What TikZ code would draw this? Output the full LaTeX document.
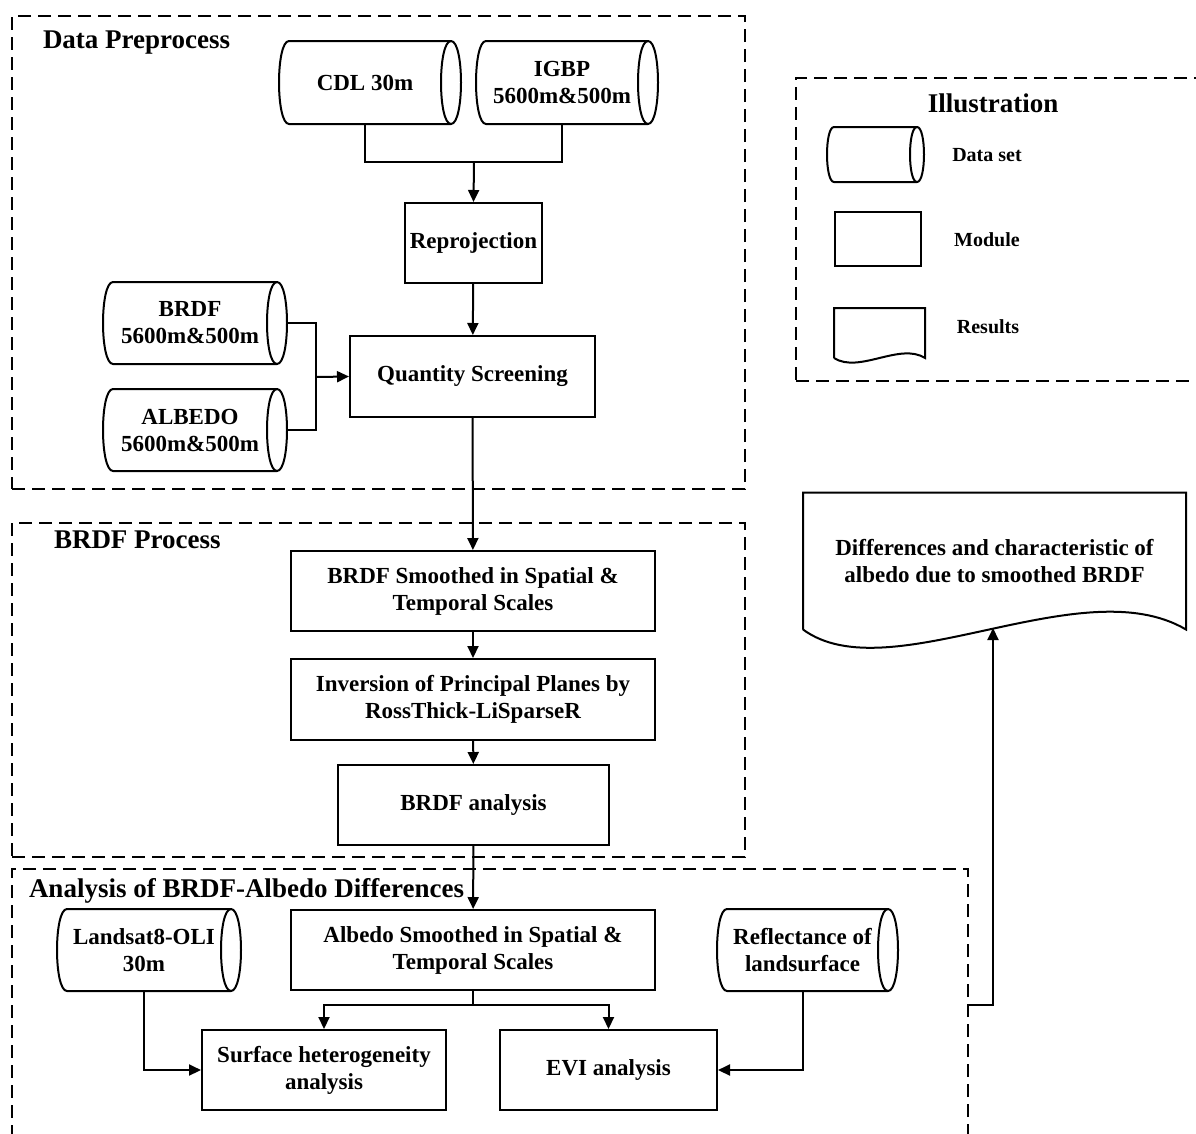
\documentclass[tikz,border=0pt]{standalone}
\usepackage{fontspec}
\setmainfont{Liberation Serif}
\usepackage{tikz}
\usetikzlibrary{arrows.meta,calc}

\newcommand{\cylout}[2][10]{%
  \draw ($(#2.north west)+(#1,0)$) -- (#2.north east)
    .. controls ($(#2.north east)+({4*#1/3},0)$) and ($(#2.south east)+({4*#1/3},0)$) .. (#2.south east)
    -- ($(#2.south west)+(#1,0)$)
    .. controls ($(#2.south west)+({-#1/3},0)$) and ($(#2.north west)+({-#1/3},0)$) .. cycle;
  \draw (#2.north east) .. controls ($(#2.north east)+({-4*#1/3},0)$) and ($(#2.south east)+({-4*#1/3},0)$) .. (#2.south east);
}

\begin{document}
\begin{tikzpicture}[x=1pt,y=-1pt,>={Triangle[length=12pt,width=11pt]},line width=2pt]
\tikzstyle{module}=[draw=black,rectangle,inner sep=0pt,align=center,font=\fontsize{23}{27}\selectfont\bfseries]
\tikzstyle{dataset}=[rectangle,inner sep=0pt,align=center,font=\fontsize{23}{27}\selectfont\bfseries]
\tikzstyle{frame}=[draw=black,rectangle,dash pattern=on 13pt off 7pt,line width=2pt]
\tikzstyle{title}=[anchor=west,inner sep=0pt,font=\fontsize{27}{30}\selectfont\bfseries]
\tikzstyle{legend}=[inner sep=0pt,font=\fontsize{20}{23}\selectfont\bfseries]
\useasboundingbox (0,0) rectangle (1196,1133);
\clip (0,0) rectangle (1196,1133);
\fill[white] (0,0) rectangle (1196,1133);
\node[frame,minimum width=733pt,minimum height=473pt] (dpframe) at (378.5,252.5) {};
\node[frame,minimum width=733pt,minimum height=334pt] (bpframe) at (378.5,690) {};
\node[frame,minimum width=956pt,minimum height=272pt] (anaframe) at (490,1005) {};
\node[frame,minimum width=414pt,minimum height=303pt] (illframe) at (1003,229.5) {};
\node[title] (dptitle) at (42,43) {Data Preprocess};
\node[title] (bptitle) at (53,540) {BRDF Process};
\node[title] (anatitle) at (28,891) {Analysis of BRDF-Albedo Differences};
\node[title,anchor=center] (illtitle) at (993,103) {Illustration};
% data preprocess
\node[dataset,minimum width=170pt,minimum height=81pt] (cdl) at (365,82.5) {CDL 30m};
\node[dataset,minimum width=170pt,minimum height=81pt] (igbp) at (562,82.5) {IGBP\\5600m\&500m};
\node[module,minimum width=137pt,minimum height=80pt] (rep) at (473.5,243) {Reprojection};
\node[module,minimum width=245pt,minimum height=81pt] (qs) at (472.5,376.5) {Quantity Screening};
\node[dataset,minimum width=172pt,minimum height=80pt] (brdf) at (190,323) {BRDF\\5600m\&500m};
\node[dataset,minimum width=172pt,minimum height=80pt] (alb) at (190,430) {ALBEDO\\5600m\&500m};
\coordinate (j1) at (474,162);
\coordinate (j2) at (316,377);
% brdf process
\node[module,minimum width=364pt,minimum height=80pt] (bsm) at (473,591) {BRDF Smoothed in Spatial \&\\Temporal Scales};
\node[module,minimum width=364pt,minimum height=81pt] (inv) at (473,699.5) {Inversion of Principal Planes by\\RossThick-LiSparseR};
\node[module,minimum width=271pt,minimum height=80pt] (bana) at (473.5,805) {BRDF analysis};
% analysis
\node[dataset,minimum width=172pt,minimum height=80pt] (land) at (144,950) {Landsat8-OLI\\30m};
\node[module,minimum width=364pt,minimum height=80pt] (asm) at (473,950) {Albedo Smoothed in Spatial \&\\Temporal Scales};
\node[dataset,minimum width=169pt,minimum height=80pt] (refl) at (802.5,950) {Reflectance of\\landsurface};
\node[module,minimum width=244pt,minimum height=80pt] (sh) at (324,1070) {Surface heterogeneity\\analysis};
\node[module,minimum width=217pt,minimum height=80pt] (evi) at (608.5,1070) {EVI analysis};
\coordinate (j3) at (473,1005);
\cylout{cdl}
\cylout{igbp}
\cylout{brdf}
\cylout{alb}
\cylout{land}
\cylout{refl}
% results
\node[inner sep=0pt,minimum width=381pt,minimum height=135pt,align=center,font=\fontsize{23}{27}\selectfont\bfseries] (res) at (994.5,561) {Differences and characteristic of\\albedo due to smoothed BRDF};
\draw (res.south west) -- (res.north west) -- (res.north east) -- (res.south east)
  .. controls ($(res.south east)+(-105,-62)$) and ($(res.south west)+(86,63)$) .. (res.south west);
\coordinate (resin) at (993,628);
% illustration
\node[dataset,minimum width=88pt,minimum height=53pt] (lcyl) at (872,154.5) {};
\cylout[7]{lcyl}
\node[module,minimum width=86pt,minimum height=54pt] (lbox) at (878,239) {};
\node[inner sep=0pt,minimum width=89pt,minimum height=48pt] (lres) at (879.5,333) {};
\draw (lres.south west) -- (lres.north west) -- (lres.north east) -- (lres.south east)
  .. controls ($(lres.south east)+(-25,-16)$) and ($(lres.south west)+(25,16)$) .. (lres.south west);
\node[legend] (ldata) at (987,155) {Data set};
\node[legend] (lmod) at (987,240) {Module};
\node[legend] (lresults) at (988,327) {Results};
% connectors
\draw (cdl.south) |- (j1) -| (igbp.south);
\draw ([xshift=10pt]brdf.east) -| (j2) |- ([xshift=10pt]alb.east);
\draw (asm.south) -- (j3);
\path[->]
(j1) edge (rep.north)
(rep) edge (qs)
(j2) edge (qs.west)
(qs) edge (bsm)
(bsm) edge (inv)
(inv) edge (bana)
(bana) edge (asm);
\draw[->] (j3) -| (sh.north);
\draw[->] (j3) -| (evi.north);
\draw[->] (land.south) |- (sh.west);
\draw[->] (refl.south) |- (evi.east);
\draw[->] (anaframe.east) -| (resin);
\end{tikzpicture}
\end{document}
